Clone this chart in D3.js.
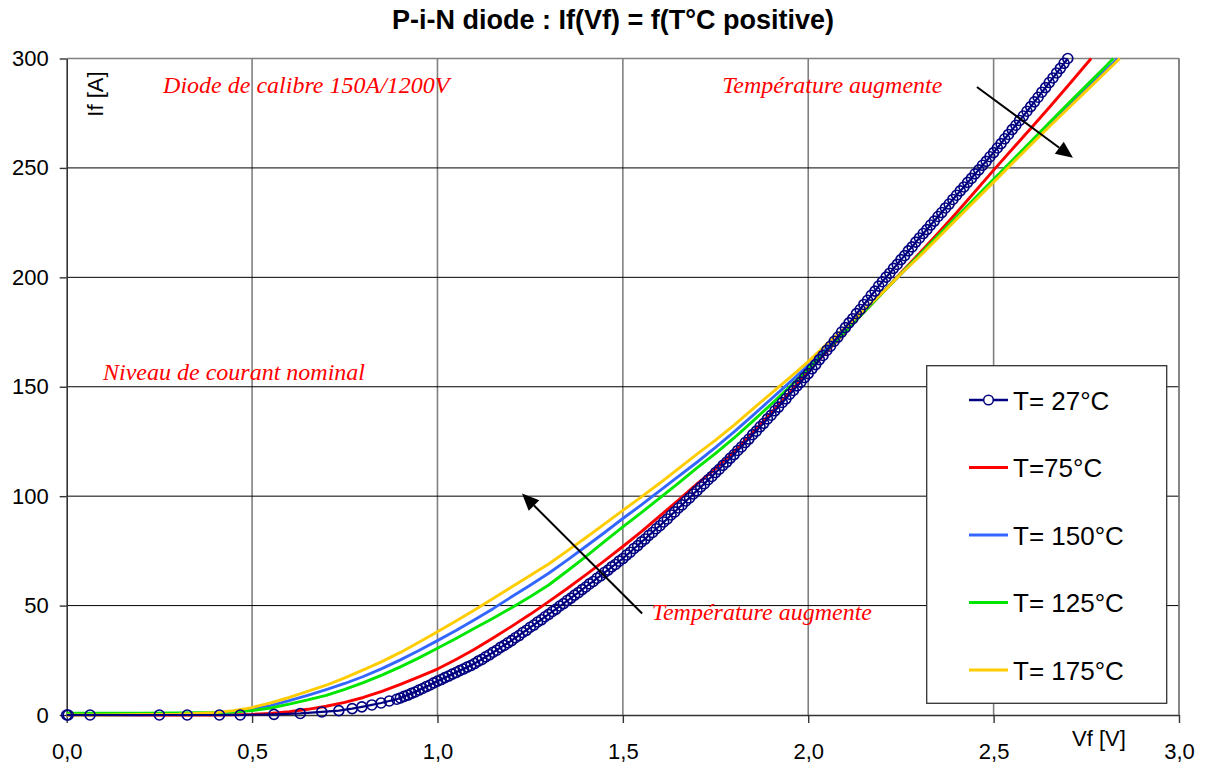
<!DOCTYPE html>
<html><head><meta charset="utf-8">
<script src="https://cdn.jsdelivr.net/npm/d3@7"></script>
<style>body{margin:0;background:#fff}svg{display:block}</style>
</head><body>
<svg id="c" width="1207" height="769"></svg>
<script>
// ---- data ----
const xTicks = [0, 0.5, 1, 1.5, 2, 2.5, 3];
const yTicks = [0, 50, 100, 150, 200, 250, 300];
const seriesNames = ["T= 27°C", "T=75°C", "T= 150°C", "T= 125°C", "T= 175°C"];
const seriesColors = ["#000080", "#ff0000", "#3366ff", "#00e600", "#ffcc00"];

const t27 = [[0,0],[0.004,0],[0.063,0],[0.25,0],[0.325,0],[0.412,0],[0.468,0],[0.559,0.3],[0.63,0.7],[0.688,1.4],[0.734,2.0],[0.77,2.9],[0.796,3.7],[0.823,4.6],[0.848,5.5],[0.87,6.4],[0.89,7.2],
[0.90,7.8],[0.91,8.5],[0.92,9.1],[0.93,9.9],[0.94,10.5],[0.95,11.4],[0.96,12.1],[0.97,13.0],[0.98,13.7],[0.99,14.7],
[1.00,15.5],[1.01,16.2],[1.02,17.1],[1.03,17.8],[1.04,18.7],[1.05,19.4],[1.06,20.3],[1.07,21.0],[1.08,21.9],[1.09,22.6],
[1.10,23.5],[1.11,24.6],[1.12,25.4],[1.13,26.6],[1.14,27.5],[1.15,28.7],[1.16,29.6],[1.17,30.9],[1.18,31.8],[1.19,33.0],
[1.20,34.0],[1.21,35.3],[1.22,36.3],[1.23,37.7],[1.24,38.7],[1.25,40.1],[1.26,41.1],[1.27,42.5],[1.28,43.5],[1.29,44.9],
[1.30,46.0],[1.31,47.3],[1.32,48.4],[1.33,49.8],[1.34,50.9],[1.35,52.3],[1.36,53.4],[1.37,54.8],[1.38,55.9],[1.39,57.3],
[1.40,58.5],[1.41,59.9],[1.42,61.0],[1.43,62.5],[1.44,63.6],[1.45,65.1],[1.46,66.2],[1.47,67.7],[1.48,68.8],[1.49,70.3],
[1.50,71.5],[1.51,73.1],[1.52,74.4],[1.53,76.1],[1.54,77.4],[1.55,79.1],[1.56,80.4],[1.57,82.1],[1.58,83.4],[1.59,85.1],
[1.60,86.5],[1.61,88.2],[1.62,89.6],[1.63,91.4],[1.64,92.8],[1.65,94.6],[1.66,96.0],[1.67,97.8],[1.68,99.2],[1.69,101.0],
[1.70,102.5],[1.71,104.2],[1.72,105.7],[1.73,107.5],[1.74,109.0],[1.75,110.8],[1.76,112.3],[1.77,114.1],[1.78,115.6],[1.79,117.4],
[1.80,119.0],[1.81,120.9],[1.82,122.5],[1.83,124.5],[1.84,126.1],[1.85,128.1],[1.86,129.7],[1.87,131.7],[1.88,133.3],[1.89,135.3],
[1.90,137.0],[1.91,139.0],[1.92,140.7],[1.93,142.8],[1.94,144.5],[1.95,146.6],[1.96,148.3],[1.97,150.4],[1.98,152.1],[1.99,154.2],
[2.00,156.0],[2.01,158.2],[2.02,160.1],[2.03,162.4],[2.04,164.3],[2.05,166.6],[2.06,168.5],[2.07,170.8],[2.08,172.7],[2.09,175.0],
[2.10,177.0],[2.11,179.2],[2.12,181.1],[2.13,183.4],[2.14,185.3],[2.15,187.6],[2.16,189.5],[2.17,191.8],[2.18,193.7],[2.19,196.0],
[2.20,198.0],[2.21,200.1],[2.22,201.9],[2.23,204.1],[2.24,205.9],[2.25,208.1],[2.26,209.9],[2.27,212.1],[2.28,213.9],[2.29,216.1],
[2.30,218.0],[2.31,220.0],[2.32,221.8],[2.33,223.9],[2.34,225.7],[2.35,227.8],[2.36,229.6],[2.37,231.7],[2.38,233.5],[2.39,235.6],
[2.40,237.5],[2.41,239.5],[2.42,241.3],[2.43,243.4],[2.44,245.2],[2.45,247.3],[2.46,249.1],[2.47,251.2],[2.48,253.0],[2.49,255.1],
[2.50,257.0],[2.51,259.1],[2.52,261.1],[2.53,263.3],[2.54,265.3],[2.55,267.5],[2.56,269.5],[2.57,271.7],[2.58,273.7],[2.59,275.9],
[2.60,278.0],[2.61,280.2],[2.62,282.3],[2.63,284.6],[2.64,286.7],[2.65,289.0],[2.66,291.1],[2.67,293.4],[2.68,295.5],[2.69,297.8],
[2.70,300.0]];

const t75 = [[0,0],[0.1,0],[0.2,0],[0.3,0],[0.35,0],[0.4,0],[0.45,0.1],[0.5,0.3],[0.55,0.7],[0.6,1.5],[0.65,2.6],[0.7,4.0],[0.75,5.8],[0.8,8.0],[0.85,10.8],[0.9,14.0],[0.95,17.4],[1.0,21.0],[1.05,25.4],[1.1,30.0],[1.15,35.2],[1.2,40.5],[1.25,46.0],[1.3,51.8],[1.35,57.8],[1.4,64.0],[1.45,70.4],[1.5,77.0],[1.55,83.8],[1.6,91.0],[1.65,98.2],[1.7,105.6],[1.75,112.6],[1.8,120.4],[1.85,129.0],[1.9,138.0],[1.95,147.4],[2.0,157.0],[2.05,166.0],[2.1,175.0],[2.15,184.0],[2.2,193.0],[2.25,202.0],[2.3,211.0],[2.35,220.2],[2.4,229.5],[2.45,239.2],[2.5,249.0],[2.55,258.5],[2.6,268.0],[2.65,277.6],[2.7,287.4],[2.763,300]];

const t150 = [[0,0],[0.1,0],[0.2,0.1],[0.3,0.3],[0.35,0.5],[0.4,0.8],[0.45,1.5],[0.5,2.6],[0.55,4.3],[0.6,6.6],[0.65,9.0],[0.7,11.6],[0.75,14.4],[0.8,17.6],[0.85,21.2],[0.9,25.2],[0.95,29.5],[1.0,34.0],[1.05,38.6],[1.1,43.5],[1.15,48.6],[1.2,54.0],[1.25,59.3],[1.3,64.8],[1.35,70.8],[1.4,77.0],[1.45,83.3],[1.5,89.8],[1.55,96.0],[1.6,102.5],[1.65,109.0],[1.7,115.5],[1.75,122.3],[1.8,129.4],[1.85,136.8],[1.9,144.4],[1.95,152.0],[2.0,159.8],[2.05,168.0],[2.1,176.2],[2.15,184.6],[2.2,193.0],[2.25,201.5],[2.3,210.0],[2.35,218.5],[2.4,227.0],[2.45,235.5],[2.5,244.0],[2.55,252.5],[2.6,261.0],[2.65,269.4],[2.7,277.8],[2.75,286.0],[2.8,294.3],[2.835,300]];

const t125 = [[0,0.8],[0.1,0.8],[0.2,0.8],[0.3,0.9],[0.35,1.0],[0.4,1.1],[0.45,1.4],[0.5,2.0],[0.55,3.2],[0.6,5.0],[0.65,6.9],[0.7,9.0],[0.75,11.7],[0.8,14.8],[0.85,18.2],[0.9,22.0],[0.95,26.1],[1.0,30.5],[1.05,35.0],[1.1,39.6],[1.15,44.2],[1.2,49.0],[1.25,54.0],[1.3,59.4],[1.35,65.8],[1.4,72.4],[1.45,79.2],[1.5,86.0],[1.55,92.5],[1.6,99.2],[1.65,106.0],[1.7,112.9],[1.75,119.6],[1.8,126.6],[1.85,134.2],[1.9,142.0],[1.95,150.0],[2.0,158.2],[2.05,166.6],[2.1,175.2],[2.15,184.0],[2.2,192.8],[2.25,201.6],[2.3,210.3],[2.35,219.0],[2.4,227.6],[2.45,236.2],[2.5,244.8],[2.55,253.4],[2.6,262.0],[2.65,270.6],[2.7,279.2],[2.75,287.6],[2.8,296.0],[2.823,300]];

const t175 = [[0,0],[0.1,0],[0.2,0.2],[0.3,0.4],[0.35,0.7],[0.4,1.1],[0.45,2.0],[0.5,3.4],[0.55,5.5],[0.6,8.0],[0.65,10.8],[0.7,13.6],[0.75,17.0],[0.8,20.6],[0.85,24.4],[0.9,28.6],[0.95,33.2],[1.0,38.0],[1.05,43.0],[1.1,48.0],[1.15,53.2],[1.2,58.5],[1.25,63.7],[1.3,69.0],[1.35,75.0],[1.4,81.0],[1.45,87.2],[1.5,93.5],[1.55,99.7],[1.6,106.0],[1.65,112.6],[1.7,119.2],[1.75,125.6],[1.8,132.5],[1.85,139.8],[1.9,147.0],[1.95,154.2],[2.0,161.5],[2.05,169.5],[2.1,177.0],[2.15,185.0],[2.2,193.0],[2.25,201.5],[2.3,209.5],[2.35,218.0],[2.4,226.5],[2.45,235.0],[2.5,243.5],[2.55,252.0],[2.6,260.5],[2.65,268.8],[2.7,277.0],[2.75,285.2],[2.8,293.4],[2.84,300]];

const noteTexts = ["Diode de calibre 150A/1200V", "Température augmente", "Niveau de courant nominal", "Température augmente"];
const notePos = [[0.26, 284.1], [1.768, 284.1], [0.098, 153], [1.578, 43.4]];
const arrowFrom = [[2.455, 287], [1.552, 46.4]];
const arrowTo = [[2.714, 254.6], [1.228, 101.2]];

// ---- layout ----
const svg = d3.select("#c");
const x = d3.scaleLinear().domain([0, 3]).range([66.7, 1179]);
const y = d3.scaleLinear().domain([0, 300]).range([715, 58.5]);
const sans = "'Liberation Sans', Arial, sans-serif";
const serif = "'Liberation Serif', 'Times New Roman', serif";

svg.append("rect").attr("width", 1207).attr("height", 769).attr("fill", "#fff");

// gridlines
const g = svg.append("g");
g.selectAll(".vg").data(xTicks.filter(d => d > 0)).join("line")
  .attr("x1", d => x(d)).attr("x2", d => x(d)).attr("y1", y(0)).attr("y2", y(300))
  .attr("stroke", "#808080").attr("stroke-width", 1.6);
g.selectAll(".hg").data(yTicks.filter(d => d > 0 && d < 300)).join("line")
  .attr("x1", x(0)).attr("x2", x(3)).attr("y1", d => y(d)).attr("y2", d => y(d))
  .attr("stroke", "#000").attr("stroke-width", 1);
g.append("line").attr("x1", x(0)).attr("x2", x(3)).attr("y1", y(300)).attr("y2", y(300))
  .attr("stroke", "#808080").attr("stroke-width", 1.6);

// axes
const fmt = d => d.toFixed(1).replace(".", ",");
const ax = svg.append("g").attr("transform", `translate(0,${y(0)})`)
  .call(d3.axisBottom(x).tickValues(xTicks).tickFormat(fmt).tickSize(8).tickSizeOuter(0).tickPadding(20));
const ay = svg.append("g").attr("transform", `translate(${x(0)},0)`)
  .call(d3.axisLeft(y).tickValues(yTicks).tickSize(7).tickSizeOuter(0).tickPadding(11));
[ax, ay].forEach(a => {
  a.select(".domain").attr("stroke", "#333").attr("stroke-width", 1.6);
  a.selectAll(".tick line").attr("stroke", "#333").attr("stroke-width", 1.4);
  a.selectAll("text").attr("font-family", sans).attr("font-size", 22).attr("fill", "#000");
});

// series
const line = d3.line().x(d => x(d[0])).y(d => y(d[1]));
const all = [t27, t75, t150, t125, t175];
const sg = svg.append("g");
[1, 2, 3, 4].forEach(i => {
  sg.append("path").datum(all[i]).attr("d", line).attr("fill", "none")
    .attr("stroke", seriesColors[i]).attr("stroke-width", 2.9).attr("stroke-linejoin", "round");
});
sg.append("path").datum(t27).attr("d", line).attr("fill", "none")
  .attr("stroke", seriesColors[0]).attr("stroke-width", 2.2);
sg.selectAll("circle.m").data(t27).join("circle").attr("class", "m")
  .attr("cx", d => x(d[0])).attr("cy", d => y(d[1])).attr("r", 5)
  .attr("fill", "none").attr("stroke", seriesColors[0]).attr("stroke-width", 1.6);

// right border
svg.append("line").attr("x1", x(3)).attr("x2", x(3)).attr("y1", y(0)).attr("y2", y(300))
  .attr("stroke", "#808080").attr("stroke-width", 1.6);

// legend
const lg = svg.append("g");
lg.append("rect").attr("x", 926.7).attr("y", 365.7).attr("width", 240).attr("height", 337.6)
  .attr("fill", "#fff").attr("stroke", "#333").attr("stroke-width", 1.3);
seriesNames.forEach((n, i) => {
  const cy = 400 + i * 67.5;
  lg.append("line").attr("x1", 969).attr("x2", 1008).attr("y1", cy).attr("y2", cy)
    .attr("stroke", seriesColors[i]).attr("stroke-width", i === 0 ? 2.4 : 2.9);
  if (i === 0) lg.append("circle").attr("cx", 988.5).attr("cy", cy).attr("r", 4.8)
    .attr("fill", "#fff").attr("stroke", seriesColors[0]).attr("stroke-width", 1.5);
  lg.append("text").attr("x", 1013).attr("y", cy + 9.5).text(n)
    .attr("font-family", sans).attr("font-size", 26).attr("fill", "#000");
});

// titles
svg.append("text").attr("x", 613).attr("y", 29).attr("text-anchor", "middle")
  .attr("font-family", sans).attr("font-weight", "bold").attr("font-size", 27)
  .text("P-i-N diode : If(Vf) = f(T°C positive)");
svg.append("text").attr("transform", "translate(103,94) rotate(-90)").attr("text-anchor", "middle")
  .attr("font-family", sans).attr("font-size", 22).text("If [A]");
svg.append("text").attr("x", 1072).attr("y", 746)
  .attr("font-family", sans).attr("font-size", 22).text("Vf [V]");

// annotations
noteTexts.forEach((t, i) => {
  svg.append("text").attr("x", x(notePos[i][0])).attr("y", y(notePos[i][1]))
    .attr("font-family", serif).attr("font-style", "italic").attr("font-size", 24)
    .attr("fill", "#ff0000").text(t);
});
arrowFrom.forEach((f, i) => {
  const x1 = x(f[0]), y1 = y(f[1]), x2 = x(arrowTo[i][0]), y2 = y(arrowTo[i][1]);
  const a = Math.atan2(y2 - y1, x2 - x1), L = 17, W = 7.5;
  const bx = x2 - L * Math.cos(a), by = y2 - L * Math.sin(a);
  svg.append("line").attr("x1", x1).attr("y1", y1).attr("x2", bx).attr("y2", by)
    .attr("stroke", "#000").attr("stroke-width", 2);
  svg.append("path").attr("fill", "#000").attr("d",
    `M${x2},${y2}L${bx - W * Math.sin(a)},${by + W * Math.cos(a)}L${bx + W * Math.sin(a)},${by - W * Math.cos(a)}Z`);
});
</script>
</body></html>
